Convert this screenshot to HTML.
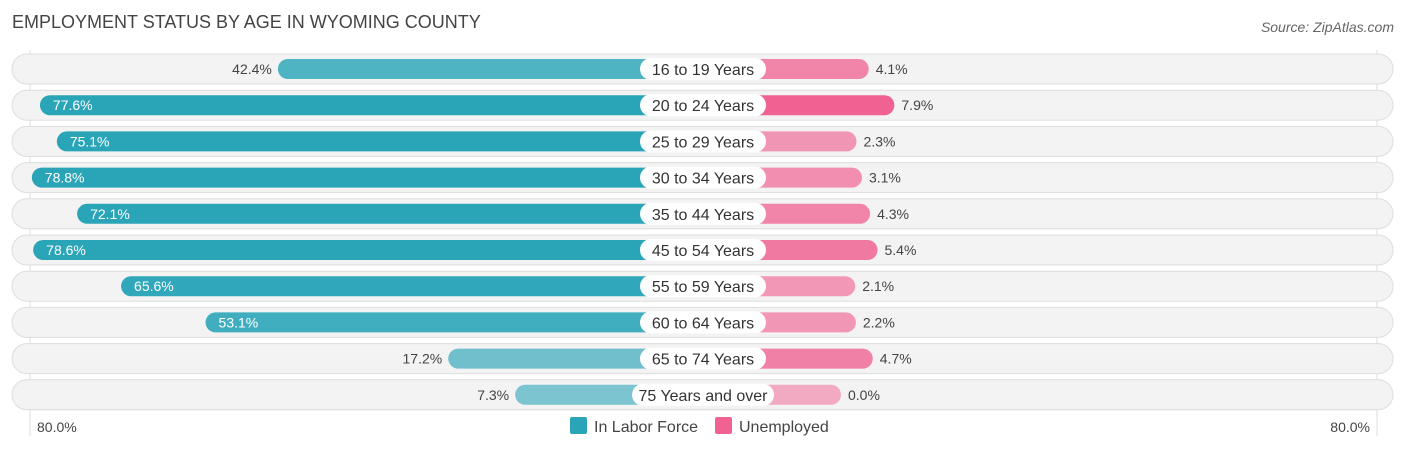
<!DOCTYPE html>
<html><head><meta charset="utf-8"><style>
body{margin:0;width:1406px;height:451px;background:#fff;font-family:"Liberation Sans",sans-serif;overflow:hidden}
</style></head><body>
<svg id="c" width="1406" height="451" xmlns="http://www.w3.org/2000/svg">
<text x="12" y="28" font-size="18" fill="#444">EMPLOYMENT STATUS BY AGE IN WYOMING COUNTY</text>
<text x="1394" y="32" font-size="14" fill="#666" font-style="italic" text-anchor="end">Source: ZipAtlas.com</text>
<line x1="30" y1="50" x2="30" y2="436" stroke="#ddd"/>
<line x1="1377" y1="50" x2="1377" y2="436" stroke="#ddd"/>
<g id="rows"></g>
<text x="37" y="432" font-size="14" fill="#444">80.0%</text>
<text x="1370" y="432" font-size="14" fill="#444" text-anchor="end">80.0%</text>
<rect x="570" y="417" width="17" height="17" rx="2" fill="#2aa5b8"/>
<text x="594" y="432" font-size="16" fill="#444">In Labor Force</text>
<rect x="715" y="417" width="17" height="17" rx="2" fill="#f06292"/>
<text x="739" y="432" font-size="16" fill="#444">Unemployed</text>
</svg>
<script>
const categories=["16 to 19 Years","20 to 24 Years","25 to 29 Years","30 to 34 Years","35 to 44 Years","45 to 54 Years","55 to 59 Years","60 to 64 Years","65 to 74 Years","75 Years and over"];
const laborForce=[42.4,77.6,75.1,78.8,72.1,78.6,65.6,53.1,17.2,7.3];
const unemployed=[4.1,7.9,2.3,3.1,4.3,5.4,2.1,2.2,4.7,0.0];
const NS="http://www.w3.org/2000/svg";
const g=document.getElementById('rows');
const k=6.76, leftBase=564.5, rightBase=841, cx=703;
function xl(v){return leftBase-k*v;}
function xr(v){return rightBase+k*v;}
function rowY(i){return 69+i*36.2;}
function mk(t,a){const e=document.createElementNS(NS,t);for(const q in a)e.setAttribute(q,a[q]);g.appendChild(e);return e;}
categories.forEach((c,i)=>{
  const y=rowY(i);
  const bg=mk('rect',{x:12,y:y-15,width:1381,height:30,rx:15,fill:'#f3f3f3',stroke:'#ddd'});
  
  
  const lv=laborForce[i], uv=unemployed[i];
  const la=0.55+0.45*Math.min(1,lv/70);
  const lb=mk('rect',{x:xl(lv),y:y-10,width:cx-xl(lv),height:20,rx:10,fill:'#2aa5b8','fill-opacity':la});
  
  
  const ua=0.5+0.5*Math.min(1,uv/7.9);
  const ub=mk('rect',{x:cx,y:y-10,width:xr(uv)-cx,height:20,rx:10,fill:'#f06292','fill-opacity':ua});
  
  
  const inside=lv>50;
  const lt=mk('text',{x:inside?xl(lv)+13:xl(lv)-6,y:y+5,'font-size':14,fill:inside?'#fff':'#444','text-anchor':inside?'start':'end'});
  lt.textContent=lv.toFixed(1)+'%';
  
  
  const ut=mk('text',{x:xr(uv)+7,y:y+5,'font-size':14,fill:'#444'});
  ut.textContent=uv.toFixed(1)+'%';
  
  
  const w=c.length>14?142:126;
  const pill=mk('rect',{x:cx-w/2,y:y-11,width:w,height:22,rx:11,fill:'#fff'});
  
  
  const ct=mk('text',{x:cx,y:y+6,'font-size':16,fill:'#333','text-anchor':'middle'});
  ct.textContent=c;
  
  
});
</script>
</body></html>
